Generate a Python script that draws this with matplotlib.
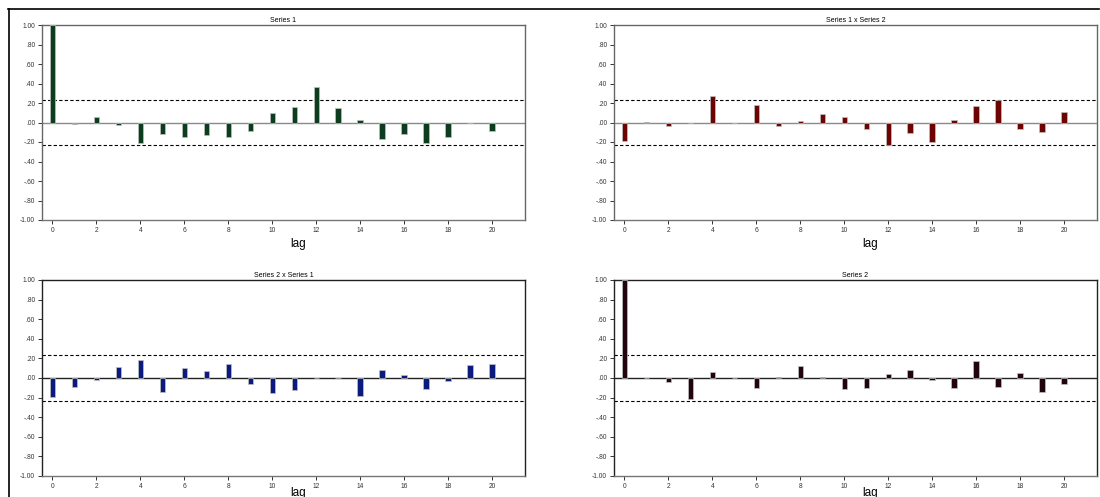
import matplotlib
matplotlib.use("Agg")
import matplotlib.pyplot as plt
import numpy as np

plt.rcParams['font.family'] = ['Liberation Sans', 'DejaVu Sans']

# lags 0..20
lags = np.arange(0, 21)

# autocorrelations / cross-correlations
series1 = [1.00, -0.02, 0.06, -0.03, -0.21, -0.12, -0.15, -0.13, -0.15, -0.09, 0.10,
           0.16, 0.36, 0.15, 0.03, -0.17, -0.12, -0.21, -0.15, -0.01, -0.09]
series1_x_series2 = [-0.19, 0.01, -0.04, 0.00, 0.27, 0.00, 0.18, -0.04, 0.02, 0.09, 0.055,
                     -0.07, -0.23, -0.11, -0.20, 0.03, 0.17, 0.23, -0.07, -0.10, 0.11]
series2_x_series1 = [-0.19, -0.09, -0.02, 0.11, 0.18, -0.14, 0.10, 0.07, 0.14, -0.06, -0.15,
                     -0.12, 0.00, 0.00, -0.18, 0.085, 0.035, -0.11, -0.03, 0.13, 0.14]
series2 = [1.00, 0.00, -0.04, -0.21, 0.06, 0.00, -0.10, 0.01, 0.12, 0.01, -0.11,
           -0.10, 0.04, 0.085, -0.02, -0.10, 0.17, -0.09, 0.05, -0.14, -0.06]

titles = ["Series 1", "Series 1 x Series 2", "Series 2 x Series 1", "Series 2"]
colors = ["#0b3d1e", "#6e0303", "#0a1a7e", "#22040c"]
zero_colors = ["#8a8a8a", "#8a8a8a", "#222222", "#222222"]
spine_colors = ["#666666", "#666666", "#222222", "#222222"]
conf = 0.232

yticks = np.arange(-1.0, 1.01, 0.2)
ytick_labels = ["-1.00", "-.80", "-.60", "-.40", "-.20", ".00", ".20", ".40", ".60", ".80", "1.00"]

W, H = 1100, 497
fig = plt.figure(figsize=(W / 100, H / 100), dpi=100)

# axes boxes in pixels: left, top, right, bottom
boxes = [(42, 25, 525, 220), (614, 25, 1097, 220),
         (42, 280, 525, 476), (614, 280, 1097, 476)]
data = [series1, series1_x_series2, series2_x_series1, series2]

for i in range(4):
    l, t, r, b = boxes[i]
    ax = fig.add_axes([l / W, 1 - b / H, (r - l) / W, (b - t) / H])
    ax.bar(lags, data[i], width=0.24, color=colors[i], edgecolor="#c0c0c0", linewidth=0.5, zorder=3)
    ax.axhline(0, color=zero_colors[i], lw=1.0, zorder=2)
    ax.axhline(conf, color="black", lw=0.8, ls=(0, (3, 2)), zorder=2)
    ax.axhline(-conf, color="black", lw=0.8, ls=(0, (3, 2)), zorder=2)
    ax.set_xlim(-0.47, 21.5)
    ax.set_ylim(-1.0, 1.0)
    ax.set_yticks(yticks)
    ax.set_yticklabels(ytick_labels)
    ax.set_xticks(np.arange(0, 21, 2))
    ax.tick_params(axis="both", labelsize=4.8, length=3, width=0.7, pad=2, colors="#333333")
    for side in ["left", "top", "right"]:
        ax.spines[side].set_color(spine_colors[i])
        ax.spines[side].set_linewidth(1.0)
    ax.spines["bottom"].set_color("#777777")
    ax.spines["bottom"].set_linewidth(1.0)
    ax.set_title(titles[i], fontsize=5, pad=2)
    ax.set_xlabel("lag", fontsize=8.5)
    if i < 2:
        ax.xaxis.set_label_coords(0.53, -0.09)
    else:
        ax.xaxis.set_label_coords(0.53, -0.055)

# outer frame
fig.add_artist(plt.Line2D([8 / W, 1099 / W], [1 - 9 / H, 1 - 9 / H], color="black", lw=1.2))
fig.add_artist(plt.Line2D([9 / W, 9 / W], [0, 1 - 9 / H], color="black", lw=1.2))

fig.savefig("out.png", dpi=100)
